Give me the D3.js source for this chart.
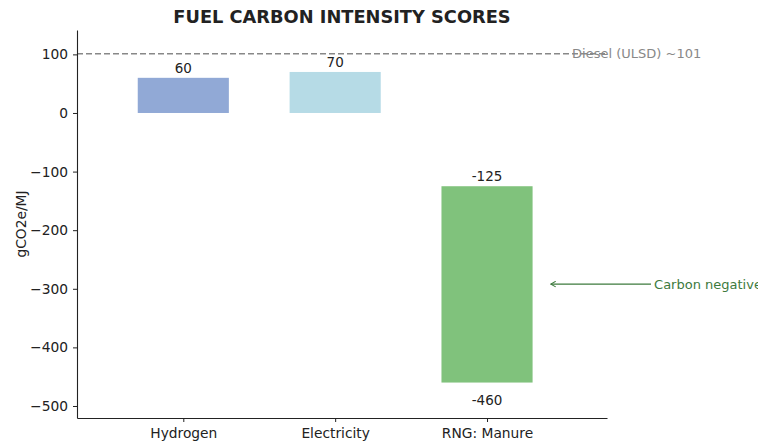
<!DOCTYPE html>
<html>
<head>
<meta charset="utf-8">
<script src="https://cdn.jsdelivr.net/npm/d3@7"></script>
<style>
body { margin: 0; background: #fff; }
text { font-family: "DejaVu Sans", sans-serif; }
</style>
</head>
<body>
<div id="chart"></div>
<script>
var width = 758;
var height = 443;

// data
var fuels = ["Hydrogen", "Electricity", "RNG: Manure"];
var barTop = [60, 70, -125];
var barBottom = [0, 0, -460];
var barColors = ["#91a9d6", "#b6dbe6", "#80c27c"];
var yTicks = [100, 0, -100, -200, -300, -400, -500];
var dieselValue = 101;
var dieselLabel = "Diesel (ULSD) ~101";
var arrowValue = -292;
var arrowLabel = "Carbon negative";

var margin = {left: 77, right: 151, top: 30, bottom: 25};

var svg = d3.select("#chart").append("svg")
    .attr("width", width).attr("height", height);

var x = d3.scaleLinear()
    .domain([-0.7, 2.79])
    .range([margin.left, width - margin.right]);

var y = d3.scaleLinear()
    .domain([-520.5, 141.6])
    .range([height - margin.bottom, margin.top]);

var barW = x(0.6) - x(0);

// bars
svg.selectAll("rect.bar")
    .data(fuels)
    .enter()
    .append("rect")
    .attr("class", "bar")
    .attr("x", function(d, i){ return x(i) - barW / 2; })
    .attr("y", function(d, i){ return y(barTop[i]); })
    .attr("width", barW)
    .attr("height", function(d, i){ return y(barBottom[i]) - y(barTop[i]); })
    .attr("fill", function(d, i){ return barColors[i]; });

// value labels
svg.selectAll("text.top")
    .data(fuels)
    .enter()
    .append("text")
    .attr("class", "top")
    .attr("x", function(d, i){ return x(i); })
    .attr("y", function(d, i){ return y(barTop[i]) - 5; })
    .attr("text-anchor", "middle")
    .attr("font-size", 13.5)
    .attr("fill", "#222")
    .text(function(d, i){ return barTop[i]; });

svg.append("text")
    .attr("x", x(2))
    .attr("y", y(barBottom[2]) + 22)
    .attr("text-anchor", "middle")
    .attr("font-size", 13.5)
    .attr("fill", "#222")
    .text(barBottom[2]);

// diesel reference line
svg.append("line")
    .attr("x1", x(-0.7)).attr("x2", x(2.79))
    .attr("y1", y(dieselValue)).attr("y2", y(dieselValue))
    .attr("stroke", "#888")
    .attr("stroke-width", 1.6)
    .attr("stroke-dasharray", "6,3");

svg.append("text")
    .attr("x", x(2.56))
    .attr("y", y(dieselValue) + 4.5)
    .attr("font-size", 13)
    .attr("fill", "#888")
    .text(dieselLabel);

// arrow annotation
svg.append("defs").append("marker")
    .attr("id", "head")
    .attr("viewBox", "0 0 10 10")
    .attr("refX", 9).attr("refY", 5)
    .attr("markerWidth", 7).attr("markerHeight", 7)
    .attr("markerUnits", "userSpaceOnUse")
    .attr("orient", "auto")
    .append("path")
    .attr("d", "M2,1 L9,5 L2,9")
    .attr("fill", "none")
    .attr("stroke", "#3d7a3d")
    .attr("stroke-width", 1.5);

svg.append("line")
    .attr("x1", x(3.08)).attr("x2", x(2.42))
    .attr("y1", y(arrowValue)).attr("y2", y(arrowValue))
    .attr("stroke", "#3d7a3d")
    .attr("stroke-width", 1.3)
    .attr("marker-end", "url(#head)");

svg.append("text")
    .attr("x", x(3.1))
    .attr("y", y(arrowValue) + 4.5)
    .attr("font-size", 13)
    .attr("fill", "#3d7a3d")
    .text(arrowLabel);

// axes
var yAxis = svg.append("g")
    .attr("transform", "translate(" + margin.left + ",0)")
    .call(d3.axisLeft(y).tickValues(yTicks).tickSize(4).tickSizeOuter(0).tickPadding(5)
        .tickFormat(function(d){ return d < 0 ? "\u2212" + Math.abs(d) : d; }));

var xAxis = svg.append("g")
    .attr("transform", "translate(0," + (height - margin.bottom) + ")")
    .call(d3.axisBottom(x).tickValues([0, 1, 2]).tickSize(4).tickSizeOuter(0).tickPadding(6)
        .tickFormat(function(d){ return fuels[d]; }));

[xAxis, yAxis].forEach(function(a){
    a.select(".domain").attr("stroke", "#222").attr("stroke-width", 1.1);
    a.selectAll(".tick line").attr("stroke", "#222");
    a.selectAll(".tick text").attr("fill", "#222").attr("font-size", 13.8)
        .attr("font-family", "DejaVu Sans, sans-serif");
});

// y label
svg.append("text")
    .attr("transform", "translate(26," + ((margin.top + height - margin.bottom) / 2) + ") rotate(-90)")
    .attr("text-anchor", "middle")
    .attr("font-size", 13.8)
    .attr("fill", "#222")
    .text("gCO2e/MJ");

// title
svg.append("text")
    .attr("x", (x(-0.7) + x(2.79)) / 2)
    .attr("y", 23)
    .attr("text-anchor", "middle")
    .attr("font-size", 17.8)
    .attr("font-weight", "bold")
    .attr("fill", "#222")
    .text("FUEL CARBON INTENSITY SCORES");
</script>
</body>
</html>
